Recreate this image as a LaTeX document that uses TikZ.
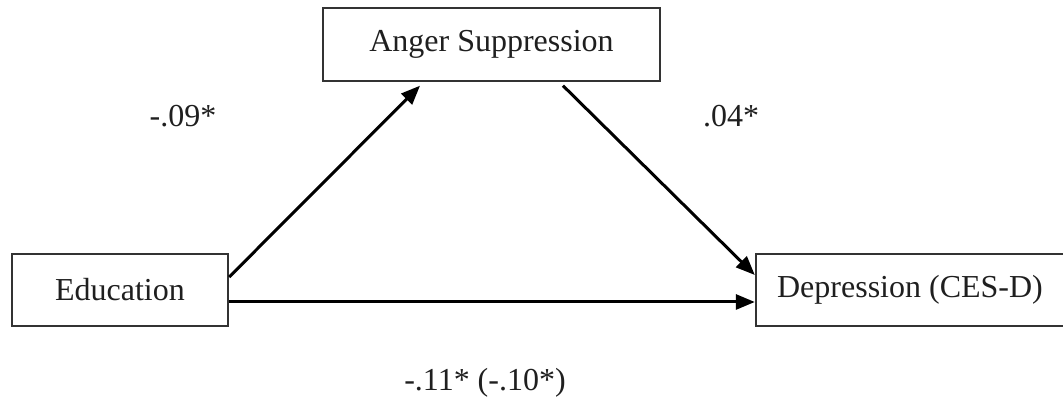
\documentclass[tikz,border=0pt]{standalone}
\usepackage{fontspec}
\setmainfont{Liberation Serif}
\usetikzlibrary{arrows.meta}
\begin{document}
\begin{tikzpicture}[x=1pt,y=1pt,
  font=\fontsize{32}{38}\selectfont,
  box/.style={draw=black!80, line width=2.4pt, inner sep=0pt, text=black!88},
  conn/.style={line width=3pt, draw=black, -{Triangle[length=19pt,width=15pt]}},
  lab/.style={text=black!88, inner sep=0pt}]
\useasboundingbox (0,0) rectangle (1063,403);
\clip (0,0) rectangle (1063,403);
\node[box, minimum width=337pt, minimum height=73pt] (anger) at (491.5,358.5) {Anger Suppression};
\node[box, minimum width=216pt, minimum height=72pt] (edu) at (120,113) {Education};
\node[box, minimum width=308pt, minimum height=72pt] (dep) at (910,113) {Depression (CES-D)};
\draw[conn] ([yshift=13pt]edu.east) -- ([xshift=-71.5pt,yshift=-3.5pt]anger.south);
\draw[conn] ([xshift=71.5pt,yshift=-3.5pt]anger.south) -- ([yshift=15pt]dep.west);
\draw[conn] ([yshift=-12pt]edu.east) -- ([yshift=-12pt]dep.west);
\node[lab] (l1) at (183,287) {-.09*};
\node[lab] (l2) at (731,287) {.04*};
\node[lab] (l3) at (485,20) {-.11* (-.10*)};
\end{tikzpicture}
\end{document}
